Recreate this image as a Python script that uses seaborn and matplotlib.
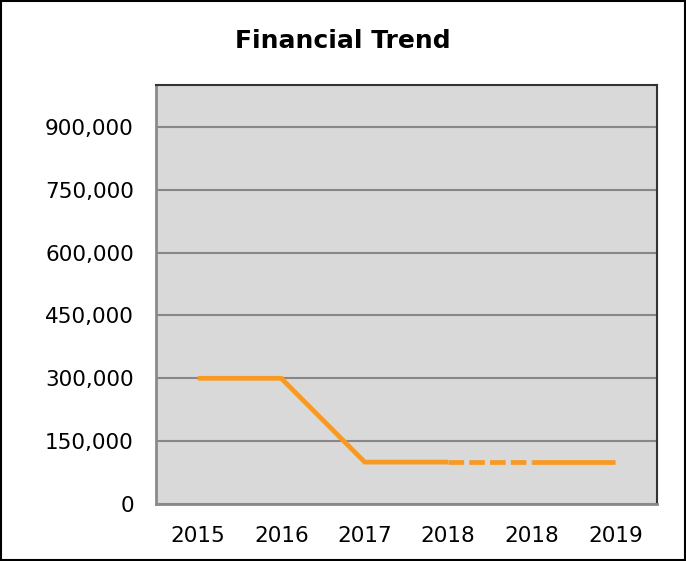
import pandas as pd
import numpy as np
import matplotlib
matplotlib.use('Agg')
import matplotlib.pyplot as plt
from matplotlib.ticker import FuncFormatter
from matplotlib.patches import Rectangle
import seaborn as sns

##data
years=['2015','2016','2017','2018','2018','2019']
values=[300000,300000,100000,100000,100000,100000]
yticks=[0,150000,300000,450000,600000,750000,900000]
##segments of the line: (start index, end index, dashed?)
segments=[(0,3,False),(3,4,True),(4,5,False)]

sns.set_style('white')
plt.rcParams['font.family']=['DejaVu Sans']

fig=plt.figure(figsize=(6.86,5.61),dpi=100)
ax=fig.add_axes([156/686,1-504/561,(657-156)/686,(504-85)/561])
ax.set_facecolor('#d9d9d9')

df=pd.DataFrame({'pos':np.arange(len(years)),'value':values})
lineColor='#f89a22'
for s,e,dashed in segments:
    seg=df.iloc[s:e+1]
    sns.lineplot(data=seg,x='pos',y='value',ax=ax,color=lineColor,lw=3.4,
                 linestyle=(0,(3.3,1.1)) if dashed else '-',
                 solid_capstyle='butt',solid_joinstyle='miter')

ax.set_xlim(-0.5,len(years)-0.5)
ax.set_ylim(0,1000000)
ax.set_xticks(df['pos'])
ax.set_xticklabels(years)
ax.set_yticks(yticks)
ax.yaxis.set_major_formatter(FuncFormatter(lambda v,p:'{:,.0f}'.format(v)))
ax.set_xlabel('')
ax.set_ylabel('')
ax.tick_params(axis='both',length=0,pad=16,labelsize=15.5,colors='black')
ax.grid(axis='y',color='#878787',lw=1.5)
ax.set_axisbelow(True)
for side in ['left','bottom']:
    ax.spines[side].set_color('#8a8a8a')
    ax.spines[side].set_linewidth(2)
for side in ['top','right']:
    ax.spines[side].set_color('#333333')
    ax.spines[side].set_linewidth(1.5)

fig.text(0.5,1-41/561,'Financial Trend',ha='center',va='center',fontsize=18,
         fontweight='bold',color='black')
fig.patches.append(Rectangle((0.002,0.002),0.996,0.996,transform=fig.transFigure,
                             fill=False,edgecolor='black',lw=1.5))

fig.savefig('out.png',dpi=100)
